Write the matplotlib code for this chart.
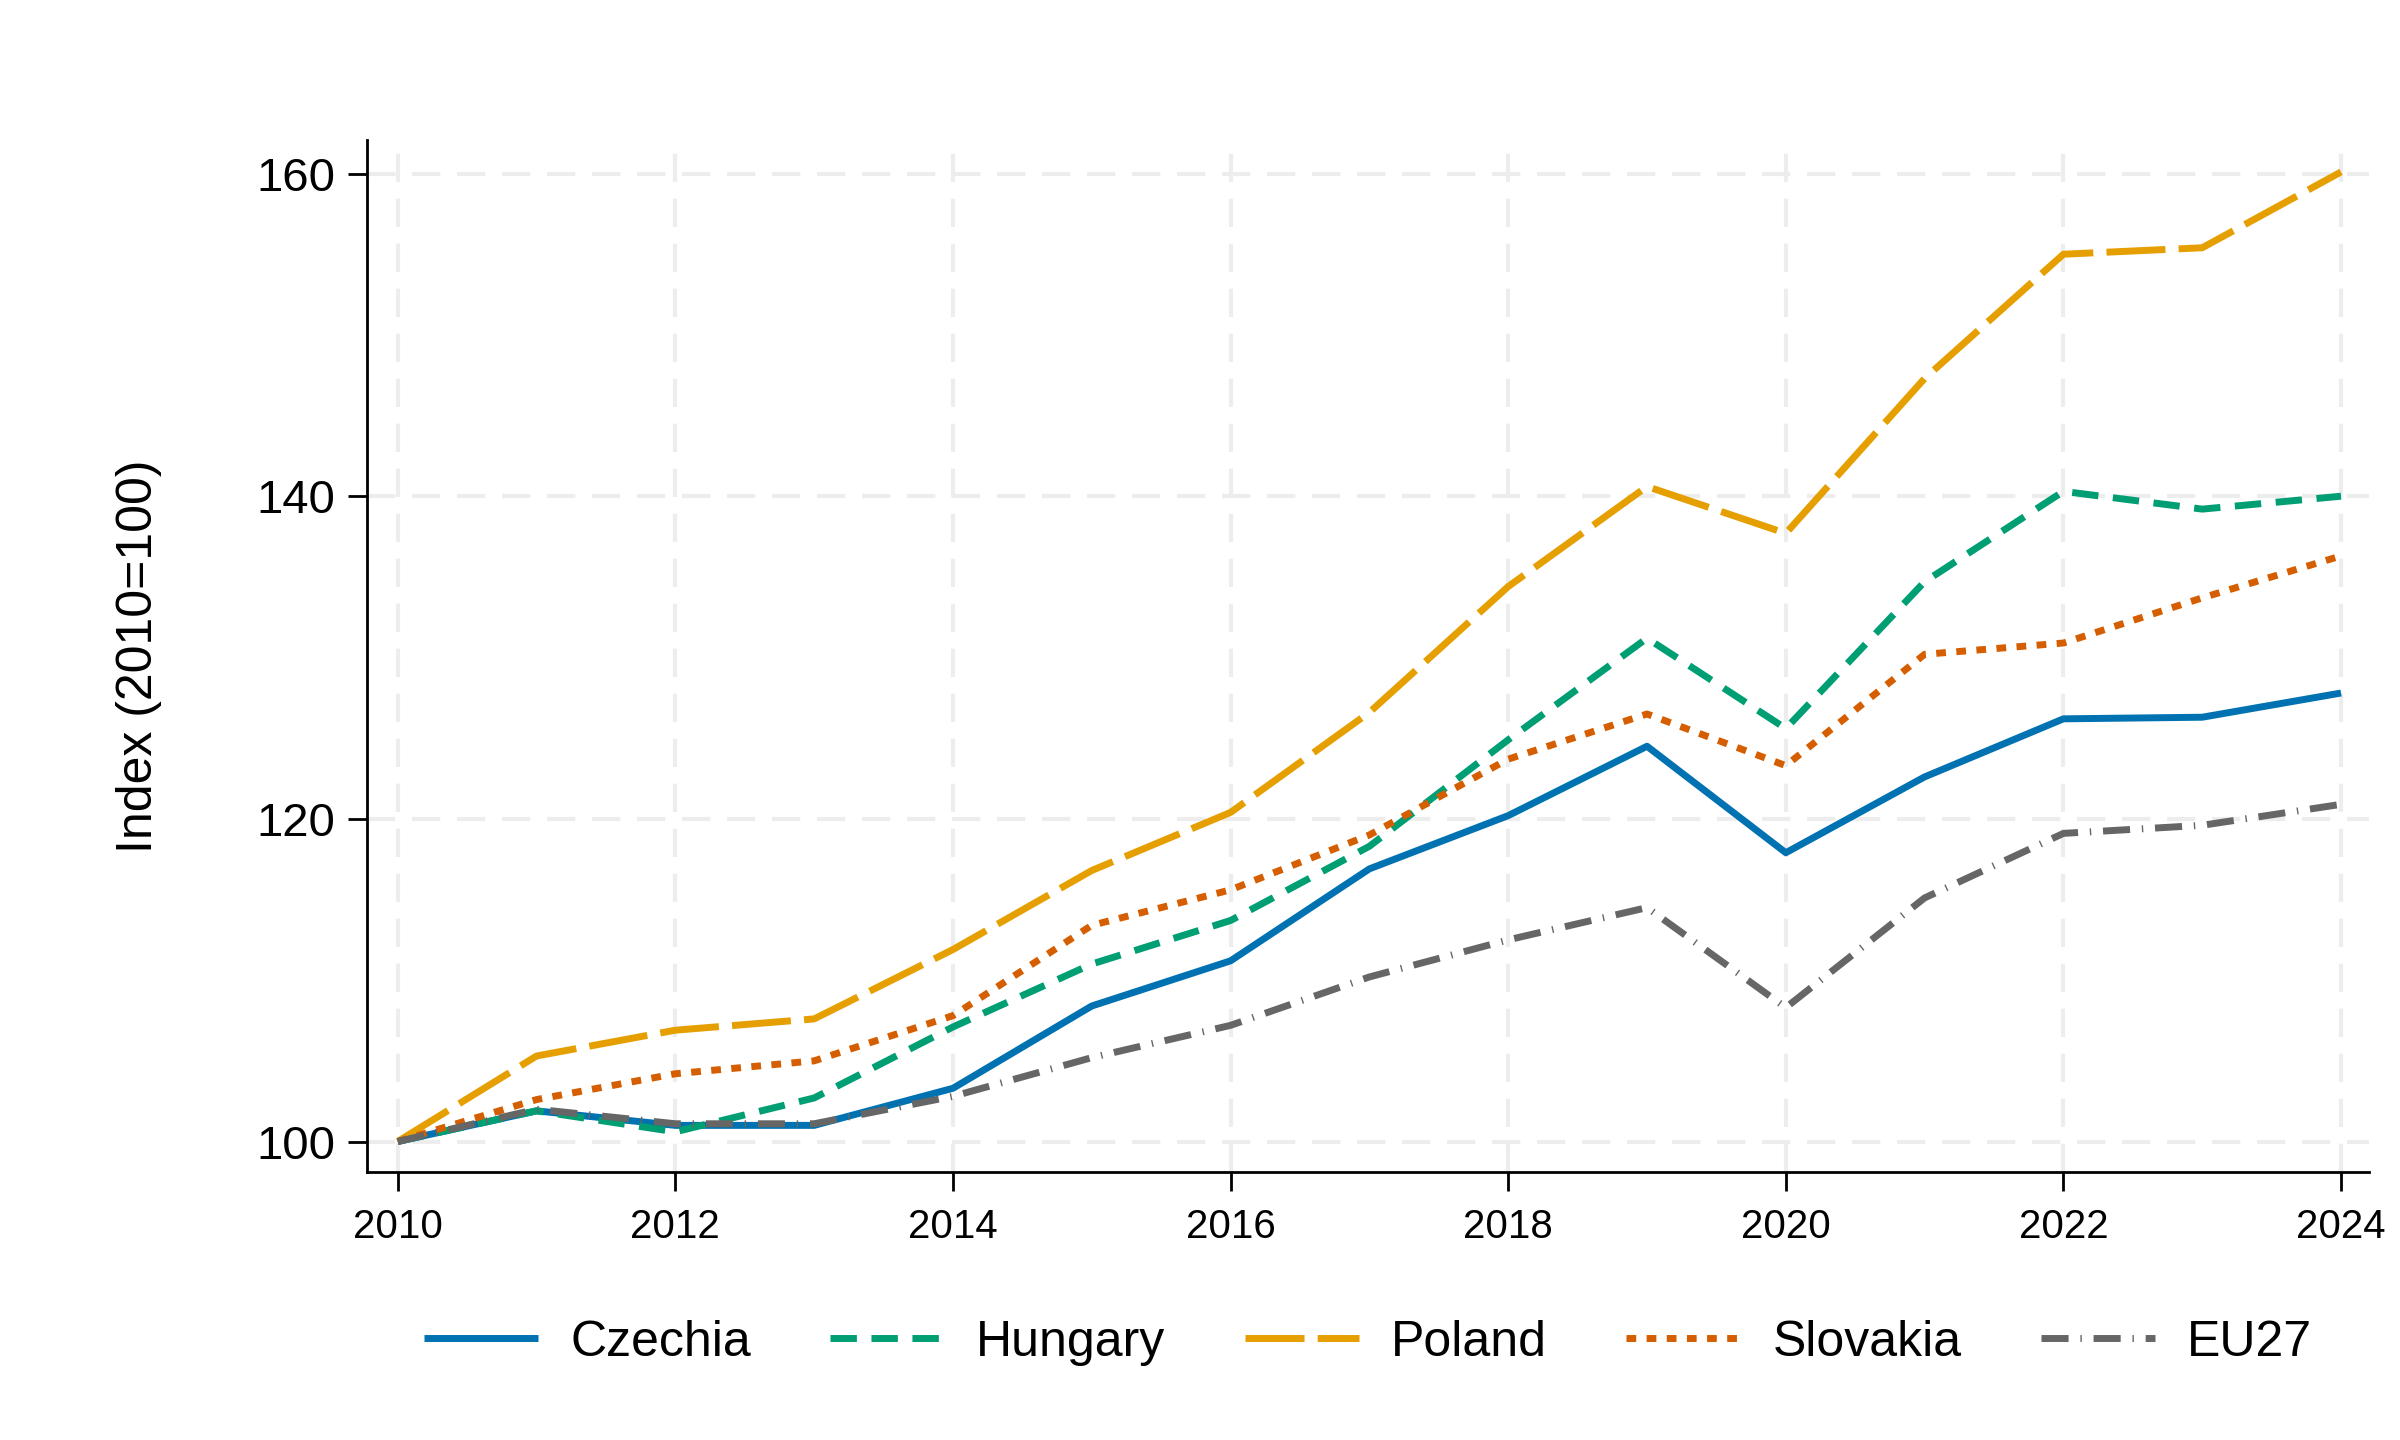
import matplotlib
matplotlib.use("Agg")
import matplotlib.pyplot as plt

plt.rcParams['font.family'] = ['Liberation Sans', 'DejaVu Sans']

years = [2010, 2011, 2012, 2013, 2014, 2015, 2016, 2017, 2018, 2019, 2020, 2021, 2022, 2023, 2024]
czechia = [100, 101.9, 101.0, 101.0, 103.3, 108.4, 111.2, 116.9, 120.2, 124.5, 117.9, 122.6, 126.2, 126.3, 127.8]
hungary = [100, 101.9, 100.6, 102.7, 107.1, 111.0, 113.7, 118.3, 124.9, 131.2, 125.6, 134.7, 140.3, 139.2, 140.0]
poland = [100, 105.3, 106.9, 107.6, 111.9, 116.8, 120.4, 126.6, 134.4, 140.6, 137.7, 147.3, 155.0, 155.4, 160.1]
slovakia = [100, 102.6, 104.2, 105.0, 107.8, 113.4, 115.6, 119.0, 123.7, 126.5, 123.3, 130.2, 130.9, 133.7, 136.3]
eu27 = [100, 102.0, 101.1, 101.1, 102.8, 105.2, 107.2, 110.2, 112.5, 114.5, 108.3, 115.1, 119.1, 119.6, 120.9]

series_names = ["Czechia", "Hungary", "Poland", "Slovakia", "EU27"]
xticks = [2010, 2012, 2014, 2016, 2018, 2020, 2022, 2024]
yticks = [100, 120, 140, 160]

fig = plt.figure(figsize=(12, 7.2), dpi=200)
ax = fig.add_axes([0.153, 0.186, 0.834, 0.717])

lw = 2.5
styles = [
    dict(color="#0072B2", linestyle="-", lw=lw),
    dict(color="#009E73", dashes=(3.8, 2.1), lw=lw),
    dict(color="#E69F00", dashes=(8.5, 1.9), lw=lw),
    dict(color="#D55E00", dashes=(1.4, 1.5), lw=lw),
    dict(color="#666666", dashes=(3.9, 1.7, 0.2, 1.7), lw=lw),
]
data = [czechia, hungary, poland, slovakia, eu27]
for name, vals, st in zip(series_names, data, styles):
    ax.plot(years, vals, label=name, solid_capstyle='butt', dash_capstyle='butt', **st)

ax.set_xlim(2009.78, 2024.2)
ax.set_ylim(98.1, 162.1)
ax.set_xticks(xticks)
ax.set_xticklabels([str(x) for x in xticks])
ax.set_yticks(yticks)
ax.set_yticklabels([str(y) for y in yticks])

ax.grid(True, color="#ededed", linestyle=(0, (6.8, 4.0)), linewidth=1.5, zorder=0)
ax.set_axisbelow(True)

for s in ["top", "right"]:
    ax.spines[s].set_visible(False)
for s in ["left", "bottom"]:
    ax.spines[s].set_linewidth(1.0)

ax.tick_params(axis='y', direction='out', length=7, width=1.0, labelsize=17, pad=4.5)
ax.tick_params(axis='x', direction='out', length=7, width=1.0, labelsize=14.5, pad=6)

ax.text(-0.114, 0.5, "Index (2010=100)", transform=ax.transAxes, rotation=90,
        ha='center', va='center', fontsize=18)

ax.legend(loc='center', bbox_to_anchor=(0.5, -0.165), ncol=5, frameon=False,
          fontsize=18, handlelength=2.28, handletextpad=0.65, columnspacing=1.58)

fig.savefig("out.png", dpi=200)
